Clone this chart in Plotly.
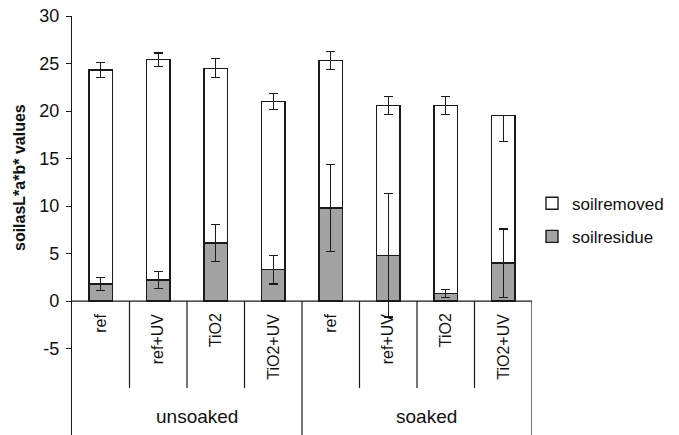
import plotly.graph_objects as go

# ---- data ----
groups = ["unsoaked", "soaked"]
treatments = ["ref", "ref+UV", "TiO2", "TiO2+UV"]
categories = [(g, t) for g in groups for t in treatments]

soil_residue = [1.8, 2.2, 6.1, 3.3, 9.8, 4.8, 0.8, 4.0]
soil_residue_err = [0.7, 0.9, 1.95, 1.5, 4.6, 6.5, 0.4, 3.6]

soil_removed = [22.5, 23.2, 18.4, 17.7, 15.5, 15.8, 19.8, 15.5]
soil_removed_err_plus = [0.8, 0.7, 1.0, 0.85, 0.95, 0.95, 0.95, 0.0]
soil_removed_err_minus = [0.8, 0.7, 1.0, 0.85, 0.95, 0.95, 0.95, 2.7]

y_ticks = [-5, 0, 5, 10, 15, 20, 25, 30]
y_tick_text = ["-5", "0", "5", "10", "15", "20", "25", "30"]

FONT = "Liberation Sans, Arial, sans-serif"
LINE = "#1a1a1a"

x_idx = list(range(len(categories)))
n = len(categories)

fig = go.Figure()
fig.add_trace(go.Bar(
    x=x_idx, y=soil_residue, name="soilresidue",
    marker=dict(color="#a3a3a3", line=dict(color=LINE, width=1.4)),
    width=0.405, legendgroup="a", legendrank=2,
    error_y=dict(type="data", array=soil_residue_err, color=LINE, thickness=1.4, width=4.5),
))
fig.add_trace(go.Bar(
    x=x_idx, y=soil_removed, name="soilremoved",
    marker=dict(color="rgba(255,255,255,0)", line=dict(color=LINE, width=1.4)),
    width=0.405, legendgroup="b", legendrank=1,
    error_y=dict(type="data", symmetric=False, array=soil_removed_err_plus,
                 arrayminus=soil_removed_err_minus, color=LINE, thickness=1.4, width=4.5),
))

y_bottom = -14.1
shapes = []
shapes.append(dict(type="line", xref="x", yref="y", x0=-0.5, x1=n - 0.5, y0=0, y1=0,
                   line=dict(color=LINE, width=1.2)))
for i in range(1, n + 1):
    xpos = i - 0.5
    y1 = y_bottom if i % len(treatments) == 0 else -9.16
    shapes.append(dict(type="line", xref="x", yref="y", x0=xpos, x1=xpos, y0=0, y1=y1,
                       line=dict(color=LINE, width=1.2)))

annotations = []
for i, (g, t) in enumerate(categories):
    annotations.append(dict(x=i, y=-1.1, xref="x", yref="y", text=t, textangle=-90,
                            showarrow=False, xanchor="center", yanchor="top",
                            font=dict(family=FONT, size=16, color="#111")))
for gi, g in enumerate(groups):
    xc = gi * len(treatments) + (len(treatments) - 1) / 2 + 0.17
    annotations.append(dict(x=xc, y=-12.1, xref="x", yref="y", text=g,
                            showarrow=False, xanchor="center", yanchor="middle",
                            font=dict(family=FONT, size=19, color="#111")))
annotations.append(dict(x=-0.113, y=12.95, xref="paper", yref="y",
                        text="<b>soilasL*a*b* values</b>", textangle=-90,
                        showarrow=False, xanchor="center", yanchor="middle",
                        font=dict(family=FONT, size=16, color="#111")))

fig.update_layout(
    width=679, height=435,
    margin=dict(l=72, r=147, t=16, b=0, autoexpand=False),
    paper_bgcolor="white", plot_bgcolor="white",
    barmode="stack",
    font=dict(family=FONT, size=18, color="#111"),
    shapes=shapes, annotations=annotations,
    legend=dict(x=1.0, xanchor="left", y=0.595, yanchor="top",
                font=dict(family=FONT, size=17, color="#111"),
                tracegroupgap=8, traceorder="grouped",
                bgcolor="rgba(0,0,0,0)"),
    xaxis=dict(visible=False, range=[-0.5, n - 0.5], automargin=False),
    yaxis=dict(range=[y_bottom, 30], tickvals=y_ticks, ticktext=y_tick_text,
               automargin=False, showgrid=False, zeroline=False,
               showline=True, linecolor=LINE, linewidth=1.2, ticks="outside", ticklen=5,
               tickcolor=LINE, tickwidth=1.2, ticklabelstandoff=3,
               tickfont=dict(family=FONT, size=18, color="#111")),
)

fig.write_html("out.html", config={"displayModeBar": False},
               post_script="document.body.style.margin='0px';")
